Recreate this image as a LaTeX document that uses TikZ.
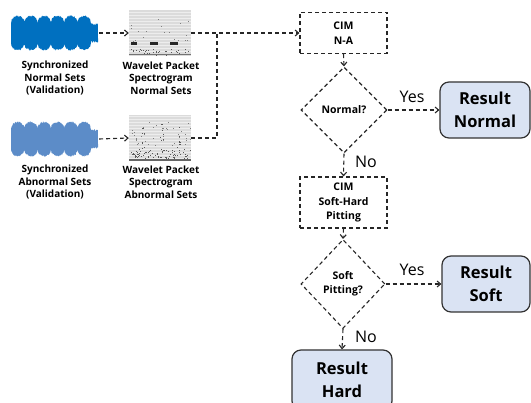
\documentclass[tikz,border=0pt]{standalone}
\usepackage{fontspec}
\setmainfont{Open Sans}
\usetikzlibrary{shapes.geometric,arrows.meta}
\definecolor{resfill}{RGB}{218,227,243}
\definecolor{wavN}{RGB}{0,112,192}
\definecolor{wavA}{RGB}{92,140,200}
\begin{document}
\begin{tikzpicture}[x=1pt,y=-1pt,
  conn/.style={draw=black!85, line width=1.1pt, dash pattern=on 4pt off 3pt},
  arr/.style={conn, -{Straight Barb[length=3.5pt,width=6pt]}},
  cimbox/.style={rectangle, conn, minimum width=87pt, minimum height=41pt, align=center, font=\bfseries\fontsize{10.5}{14.5}\selectfont, inner sep=0pt},
  decision/.style={diamond, conn, minimum width=86pt, minimum height=86pt, inner sep=0pt, align=center, font=\bfseries\fontsize{10.5}{14}\selectfont},
  result/.style={rectangle, rounded corners=9pt, draw=black!80, line width=1.2pt, fill=resfill, minimum width=90pt, minimum height=56pt, align=center, font=\bfseries\fontsize{16.5}{23}\selectfont, inner sep=0pt},
  lbl/.style={align=center, font=\bfseries\fontsize{10}{12.5}\selectfont, inner sep=0pt},
  yn/.style={font=\fontsize{16}{18}\selectfont, inner sep=0pt},
  spec/.style={rectangle, fill=black!14, minimum width=62pt, minimum height=46pt, inner sep=0pt},
  wave/.style={rectangle, minimum width=88pt, minimum height=34pt, inner sep=0pt},
  declare function={wamp(\t)=(\t<91)*(8+8*pow(abs(sin(180*(\t-11)/13.3)),0.35)) + (\t>=91)*8;}
]
\useasboundingbox (0,0) rectangle (531,403);
\clip (0,0) rectangle (531,403);
\pgfmathsetseed{4242}

% ---------- waveforms ----------
\fill[wavN] plot[domain=11:98, samples=220] (\x,{33-wamp(\x)-1.8*rnd})
  -- plot[domain=98:11, samples=220] (\x,{33+wamp(\x)+1.8*rnd}) -- cycle;
\node[wave] (wN) at (55,33) {};
\fill[wavA] plot[domain=11:98, samples=220] (\x,{139-wamp(\x)-1.8*rnd})
  -- plot[domain=98:11, samples=220] (\x,{139+wamp(\x)+1.8*rnd}) -- cycle;
\node[wave] (wA) at (55,139) {};

% ---------- spectrogram normal ----------
\node[spec] (spN) at (160,33) {};
\foreach \yy in {12,15,...,55} \draw[black!7, line width=0.8pt] (129,\yy) -- (191,\yy);
\foreach \i in {1,...,18} \fill[black!50] ({130+60*rnd},{15+26*rnd}) rectangle ++(1,1);
\fill[black!85] (131,42.5) rectangle (137,45.5);
\fill[black!85] (150,42.5) rectangle (158,45.5);
\fill[black!85] (170,42.5) rectangle (178,45.5);
\foreach \i in {1,...,45} \fill[black!65] ({130+60*rnd},{49+6*rnd}) rectangle ++(1,1);
\fill[black!55] (129,54.5) rectangle (191,55.5);

% ---------- spectrogram abnormal ----------
\node[spec] (spA) at (160,138) {};
\foreach \yy in {116,119,...,160} \draw[black!7, line width=0.8pt] (129,\yy) -- (191,\yy);
\foreach \i in {1,...,40} \fill[black!50] ({130+60*rnd},{122+24*rnd}) rectangle ++(1,1);
\foreach \cx in {141,160,177} \foreach \i in {1,...,7} \fill[black!65] ({\cx+3*rnd},{124+28*rnd}) rectangle ++(1.2,1.2);
\foreach \i in {1,...,80} \fill[black!65] ({130+60*rnd},{149+10*rnd}) rectangle ++(1,1);
\fill[black!60] (129,159.5) rectangle (191,160.8);

% ---------- labels ----------
\node[lbl] (lN) at (55,78) {Synchronized\\Normal Sets\\(Validation)};
\node[lbl] (lSN) at (161,78) {Wavelet Packet\\Spectrogram\\Normal Sets};
\node[lbl] (lA) at (55,182) {Synchronized\\Abnormal Sets\\(Validation)};
\node[lbl] (lSA) at (161,182) {Wavelet Packet\\Spectrogram\\Abnormal Sets};

% ---------- flowchart ----------
\node[cimbox] (cim1) at (343.5,33) {CIM\\N-A};
\node[decision] (d1) at (344,110) {Normal?};
\node[result] (rn) at (485,110) {Result\\Normal};
\node[cimbox, minimum height=51pt] (cim2) at (343.5,202.5) {CIM\\Soft-Hard\\Pitting};
\node[decision, minimum width=84pt, minimum height=89pt] (d2) at (343,284) {Soft\\Pitting?};
\node[result, minimum width=88pt] (rs) at (486,284) {Result\\Soft};
\node[result, minimum width=100pt, minimum height=60pt] (rh) at (342,380) {Result\\Hard};

\coordinate (j) at (217,33);

\draw[arr] (wN.east) -- (spN.west);
\draw[arr] (wA.east) -- (spA.west);
\draw[arr] (spN.east) -- (cim1.west);
\draw[conn] (spA.east) -| (j);
\draw[arr] (cim1.south) -- (d1.north);
\draw[arr] (d1.east) -- (rn.west);
\draw[arr] (d1.south) -- (cim2.north);
\draw[arr] (cim2.south) -- (d2.north);
\draw[arr] (d2.east) -- (rs.west);
\draw[arr] (d2.south) -- (rh.north);

\node[yn] (y1) at (412,97) {Yes};
\node[yn] (n1) at (366,162) {No};
\node[yn] (y2) at (412,270) {Yes};
\node[yn] (n2) at (366,337) {No};
\end{tikzpicture}
\end{document}
